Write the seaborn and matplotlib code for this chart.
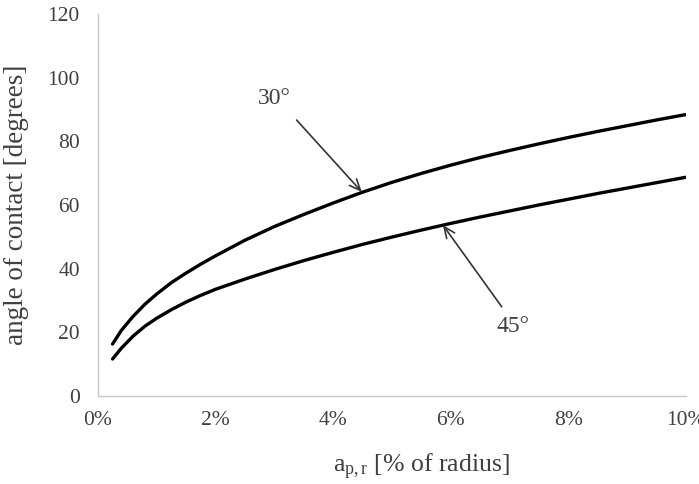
import numpy as np
import pandas as pd
import matplotlib
matplotlib.use("Agg")
import matplotlib.pyplot as plt
import seaborn as sns
from matplotlib.ticker import FuncFormatter

# radial depth of cut, % of radius
a_pr = [0.25, 0.4, 0.6, 0.8, 1.0, 1.25, 1.5, 1.75, 2.0, 2.5, 3.0, 3.5, 4.0, 4.5,
        5.0, 5.5, 6.0, 6.5, 7.0, 7.5, 8.0, 8.5, 9.0, 9.5, 10.0]
# angle of contact, degrees
contact_30 = [16.3, 20.6, 25.0, 28.8, 32.0, 35.6, 38.6, 41.4, 44.0, 48.9, 53.2, 57.0, 60.6, 64.0,
              67.1, 69.9, 72.5, 74.9, 77.1, 79.2, 81.2, 83.1, 84.9, 86.7, 88.4]
contact_45 = [11.6, 15.0, 18.8, 21.9, 24.4, 27.1, 29.5, 31.6, 33.5, 36.7, 39.7, 42.5, 45.1, 47.6,
              49.9, 52.1, 54.2, 56.2, 58.1, 60.0, 61.8, 63.6, 65.3, 67.0, 68.7]
series = ["30°", "45°"]

df = pd.concat([
    pd.DataFrame({"a": a_pr, "angle": contact_30, "helix": series[0]}),
    pd.DataFrame({"a": a_pr, "angle": contact_45, "helix": series[1]}),
])

sns.set_style("white")
plt.rcParams["font.family"] = ["Liberation Serif", "DejaVu Serif"]
plt.rcParams["mathtext.fontset"] = "custom"
plt.rcParams["mathtext.rm"] = "Liberation Serif"
plt.rcParams["mathtext.it"] = "Liberation Serif:italic"

txt = "#404040"
fig = plt.figure(figsize=(6.99, 4.84), dpi=100)
ax = fig.add_axes([0.140, 0.182, 0.841, 0.789])

sns.lineplot(data=df, x="a", y="angle", hue="helix", palette=["black", "black"],
             linewidth=2.4, legend=False, ax=ax)

ax.set_xlim(0, 10)
ax.set_ylim(0, 120)
ax.set_xticks(range(0, 11, 2))
ax.set_yticks(range(0, 121, 20))
ax.xaxis.set_major_formatter(FuncFormatter(lambda v, p: f"{v:.0f}%"))

for s in ["top", "right"]:
    ax.spines[s].set_visible(False)
for s in ["left", "bottom"]:
    ax.spines[s].set_color("#c8c8c8")
    ax.spines[s].set_linewidth(1.0)
ax.tick_params(axis="both", direction="in", length=5, width=1.0, color="#c8c8c8",
               labelsize=15.5, labelcolor=txt)
ax.tick_params(axis="x", pad=11)
ax.tick_params(axis="y", pad=13)

ax.set_ylabel("angle of contact [degrees]", fontsize=19.5, color=txt, va="center")
ax.yaxis.set_label_coords(-0.138, 0.5)
ax.set_xlabel(r"a$_\mathrm{p,r}$ [% of radius]", fontsize=18.5, color=txt, va="baseline")
ax.xaxis.set_label_coords(0.551, -0.199)

arrow = dict(arrowstyle="->,head_length=0.8,head_width=0.35", color="#333333", lw=1.2,
             shrinkA=0, shrinkB=0)
ax.annotate("", xy=(4.49, 64.1), xytext=(3.38, 86.7), arrowprops=arrow)
ax.annotate("", xy=(5.87, 53.7), xytext=(6.87, 28.0), arrowprops=arrow)
ax.text(3.01, 93.6, series[0], fontsize=17, color=txt, ha="center", va="center")
ax.text(7.06, 21.7, series[1], fontsize=17, color=txt, ha="center", va="center")

fig.savefig("out.png", dpi=100)
